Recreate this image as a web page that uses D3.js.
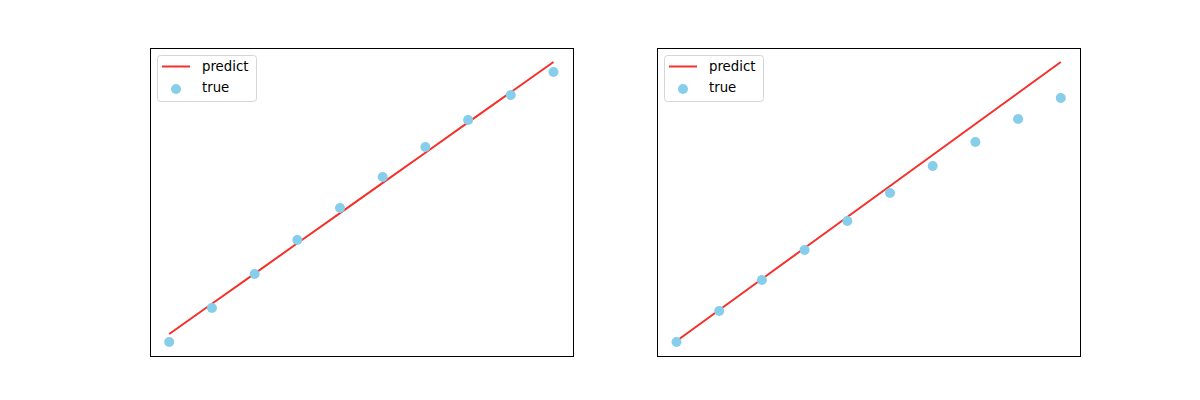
<!DOCTYPE html>
<html>
<head>
<meta charset="utf-8">
<script src="https://cdn.jsdelivr.net/npm/d3@7"></script>
<style>
  body { margin: 0; background: #fff; }
  svg { display: block; font-family: "DejaVu Sans", sans-serif; }
</style>
</head>
<body>
<svg></svg>
<script>
// data
const xIndex = [0, 1, 2, 3, 4, 5, 6, 7, 8, 9];
const leftTrue = [0, 3.4, 6.8, 10.2, 13.4, 16.5, 19.5, 22.2, 24.7, 27.0];
const leftPredict = [0.8, 3.82, 6.84, 9.87, 12.89, 15.91, 18.93, 21.96, 24.98, 28.0];
const rightTrue = [0, 3.1, 6.2, 9.2, 12.1, 14.9, 17.6, 20.0, 22.3, 24.4];
const rightPredict = [0.1, 3.2, 6.3, 9.4, 12.5, 15.6, 18.7, 21.8, 24.9, 28.0];
const legendLabels = ["predict", "true"];

const svgSize = { width: 1200, height: 400 };
const svg = d3.select("svg")
  .attr("width", svgSize.width)
  .attr("height", svgSize.height);

// matplotlib-like subplot layout
const axH = { top: 48, bottom: 356 };
const panels = [
  { left: 150, right: 572.7, yTrue: leftTrue, yPred: leftPredict },
  { left: 657.3, right: 1080, yTrue: rightTrue, yPred: rightPredict }
];

const red = "#f5302a";
const blue = "#87ceeb";

panels.forEach(p => {
  const g = svg.append("g");

  // 5% margins like matplotlib autoscale
  const xExt = d3.extent(xIndex);
  const xPad = (xExt[1] - xExt[0]) * 0.05;
  const x = d3.scaleLinear()
    .domain([xExt[0] - xPad, xExt[1] + xPad])
    .range([p.left, p.right]);

  const yExt = d3.extent(p.yTrue.concat(p.yPred));
  const yPad = (yExt[1] - yExt[0]) * 0.05;
  const y = d3.scaleLinear()
    .domain([yExt[0] - yPad, yExt[1] + yPad])
    .range([axH.bottom, axH.top]);

  // predicted line
  const line = d3.line()
    .x((d, i) => x(xIndex[i]))
    .y(d => y(d));
  g.append("path")
    .datum(p.yPred)
    .attr("d", line)
    .attr("fill", "none")
    .attr("stroke", red)
    .attr("stroke-width", 2);

  // true points
  g.selectAll("circle")
    .data(p.yTrue)
    .enter()
    .append("circle")
    .attr("cx", (d, i) => x(xIndex[i]))
    .attr("cy", d => y(d))
    .attr("r", 5)
    .attr("fill", blue);

  // frame
  g.append("rect")
    .attr("x", Math.round(p.left) + 0.5)
    .attr("y", axH.top + 0.5)
    .attr("width", Math.round(p.right) - Math.round(p.left))
    .attr("height", axH.bottom - axH.top)
    .attr("fill", "none")
    .attr("stroke", "#000")
    .attr("stroke-width", 1)
    .attr("shape-rendering", "crispEdges");

  // legend
  const lg = g.append("g")
    .attr("transform", `translate(${Math.round(p.left) + 7},${axH.top + 7})`);
  lg.append("rect")
    .attr("x", 0.5).attr("y", 0.5)
    .attr("width", 99)
    .attr("height", 46)
    .attr("rx", 3)
    .attr("fill", "#fff")
    .attr("fill-opacity", 0.8)
    .attr("stroke", "#d5d5d5");
  lg.append("line")
    .attr("x1", 5).attr("x2", 33)
    .attr("y1", 11.5).attr("y2", 11.5)
    .attr("stroke", red)
    .attr("stroke-width", 2);
  lg.append("circle")
    .attr("cx", 19).attr("cy", 34)
    .attr("r", 5)
    .attr("fill", blue);
  lg.selectAll("text")
    .data(legendLabels)
    .enter()
    .append("text")
    .attr("x", 45)
    .attr("y", (d, i) => 16 + i * 21)
    .attr("font-size", "13.3px")
    .attr("fill", "#000")
    .text(d => d);
});
</script>
</body>
</html>
